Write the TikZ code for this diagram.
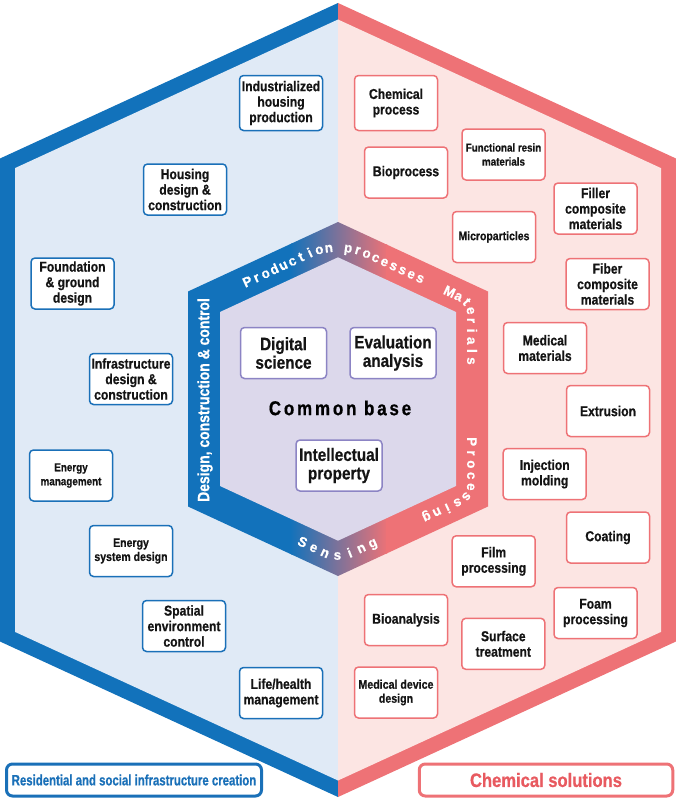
\documentclass[tikz,border=0pt]{standalone}
\usepackage{fontspec}
\setmainfont{Liberation Sans}[FakeStretch=0.85, BoldFeatures={FakeBold=0.6}]
\newfontfamily\narrowfont{Liberation Sans}[FakeStretch=0.76, BoldFeatures={FakeBold=0.6}]
\newfontfamily\bandfamily{Liberation Sans}[FakeStretch=0.97, BoldFeatures={FakeBold=0.6}]
\usetikzlibrary{decorations.markings}
\definecolor{bandblue}{HTML}{1272BB}
\definecolor{bandred}{HTML}{EE7276}
\definecolor{lightblue}{HTML}{E0EAF6}
\definecolor{lightpink}{HTML}{FCE5E3}
\definecolor{lavender}{HTML}{DCD8EB}
\definecolor{boxpurple}{HTML}{8C84C4}
\definecolor{boxblue}{HTML}{1A70B8}
\definecolor{redtext}{HTML}{E85A60}
\newcommand\bandfnt{\bandfamily\bfseries\fontsize{13.8}{14}\selectfont}
\newcommand\seqn{\pgfkeysvalueof{/pgf/decoration/mark info/sequence number}}
\newcommand\prodL[1]{\ifcase#1\or P\or r\or o\or d\or u\or c\or t\or i\or o\or n\or\relax\or p\or r\or o\or c\or e\or s\or s\or e\or s\fi}
\newcommand\matL[1]{\ifcase#1\or M\or a\or t\or e\or r\or i\or a\or l\or s\fi}
\newcommand\procL[1]{\ifcase#1\or P\or r\or o\or c\or e\or s\or s\or i\or n\or g\fi}
\newcommand\sensL[1]{\ifcase#1\or S\or e\or n\or s\or i\or n\or g\fi}
\tikzset{
  sbox/.style={draw, line width=1.5pt, rounded corners=4pt, fill=white,
    minimum width=83pt, minimum height=51pt, inner sep=0pt, align=center,
    text=black!92, font=\bfseries\fontsize{14.3}{15.5}\selectfont},
  bbox/.style={sbox, draw=boxblue},
  rbox/.style={sbox, draw=bandred},
  cbox/.style={sbox, draw=boxpurple, minimum width=86pt, font=\bfseries\fontsize{18}{18.5}\selectfont},
  smallf/.style={font=\bfseries\fontsize{#1}{14}\selectfont},
  bandch/.style={transform shape, text=white, inner sep=0pt, anchor=base, font=\bandfnt},
  label/.style={draw, line width=3pt, rounded corners=6pt, fill=white,
    minimum height=32pt, inner sep=0pt},
}
\begin{document}
\begin{tikzpicture}[x=1pt,y=-1pt]
\useasboundingbox (0,0) rectangle (676,800);
% big hexagon
\coordinate (O1) at (338,3);
\coordinate (O2) at (676,158.5);
\coordinate (O3) at (676,641.5);
\coordinate (O4) at (338,797);
\coordinate (O5) at (0,641.5);
\coordinate (O6) at (0,158.5);
\coordinate (I1) at (338,19.5);
\coordinate (I2) at (661,168.1);
\coordinate (I3) at (661,631.9);
\coordinate (I4) at (338,780.5);
\coordinate (I5) at (15,631.9);
\coordinate (I6) at (15,168.1);
\begin{scope}
  \clip (-1,-1) rectangle (338,801);
  \fill[bandblue] (O1)--(O2)--(O3)--(O4)--(O5)--(O6)--cycle;
  \fill[lightblue] (I1)--(I2)--(I3)--(I4)--(I5)--(I6)--cycle;
\end{scope}
\begin{scope}
  \clip (338,-1) rectangle (677,801);
  \fill[bandred] (O1)--(O2)--(O3)--(O4)--(O5)--(O6)--cycle;
  \fill[lightpink] (I1)--(I2)--(I3)--(I4)--(I5)--(I6)--cycle;
\end{scope}
% inner hexagon
\coordinate (J1) at (338,222);
\coordinate (J2) at (488,291.5);
\coordinate (J3) at (488,506.5);
\coordinate (J4) at (338,576);
\coordinate (J5) at (188,506.5);
\coordinate (J6) at (188,291.5);
\coordinate (K1) at (338,257.3);
\coordinate (K2) at (456,312);
\coordinate (K3) at (456,486);
\coordinate (K4) at (338,540.7);
\coordinate (K5) at (220,486);
\coordinate (K6) at (220,312);
\begin{scope}
  \clip (J1)--(J2)--(J3)--(J4)--(J5)--(J6)--cycle;
  \fill[bandblue] (180,210) rectangle (292,590);
  \shade[left color=bandblue, right color=bandred] (290,210) rectangle (388,590);
  \fill[bandred] (386,210) rectangle (500,590);
\end{scope}
\fill[lavender] (K1)--(K2)--(K3)--(K4)--(K5)--(K6)--cycle;
% band texts
\coordinate (pa) at (243,283.6);
\coordinate (pb) at (338,239.6);
\coordinate (pc) at (425,279.9);
\coordinate (ma) at (445,289.5);
\coordinate (mb) at (472,302);
\coordinate (mc) at (472,366);
\coordinate (qa) at (472,436);
\coordinate (qb) at (472,497);
\coordinate (qc) at (422,520.2);
\coordinate (sa) at (297,539.3);
\coordinate (sb) at (338,558.3);
\coordinate (sc) at (378,539.8);
\path[rounded corners=30pt, decorate, decoration={markings,
  mark=between positions 0.025 and 0.99 step 0.05 with {\node[bandch] at (0pt,-4.8pt) {\prodL{\seqn}};}}]
  (pa) -- (pb) -- (pc);
\path[rounded corners=12pt, decorate, decoration={markings,
  mark=between positions 0.0556 and 0.99 step 0.1111 with {\node[bandch] at (0pt,-4.8pt) {\matL{\seqn}};}}]
  (ma) -- (mb) -- (mc);
\path[rounded corners=12pt, decorate, decoration={markings,
  mark=between positions 0.05 and 0.99 step 0.1 with {\node[bandch] at (0pt,-4.8pt) {\procL{\seqn}};}}]
  (qa) -- (qb) -- (qc);
\path[rounded corners=14pt, decorate, decoration={markings,
  mark=between positions 0.0714 and 0.99 step 0.142857 with {\node[bandch] at (0pt,-4.8pt) {\sensL{\seqn}};}}]
  (sa) -- (sb) -- (sc);
\node[rotate=90, text=white, inner sep=0pt, font=\bfseries\fontsize{16.4}{17}\selectfont] (dcc) at (205,400) {Design, construction \& control};
% centre
\node[cbox] (digi) at (283.5,353) {Digital\\science};
\node[cbox] (eval) at (393,353) {Evaluation\\analysis};
\node[cbox] (ip) at (339,465.5) {Intellectual\\property};
\node[inner sep=0pt, font=\bfseries\fontsize{20}{20}\selectfont\addfontfeature{LetterSpace=14}] (cb) at (340,408) {Common base};
% left boxes
\node[bbox, minimum height=55pt] (ind) at (281,103) {Industrialized\\housing\\production};
\node[bbox] (hous) at (185,189.5) {Housing\\design \&\\construction};
\node[bbox] (found) at (72.5,283.5) {Foundation\\\& ground\\design};
\node[bbox] (infra) at (131,379) {Infrastructure\\design \&\\construction};
\node[bbox, smallf=11.6] (emgmt) at (71,475.5) {Energy\\management};
\node[bbox, smallf=12.4] (esys) at (131,551) {Energy\\system design};
\node[bbox] (spat) at (184,626) {Spatial\\environment\\control};
\node[bbox] (life) at (281,693) {Life/health\\management};
% right boxes
\node[rbox, minimum height=55pt] (chem) at (396,103) {Chemical\\process};
\node[rbox, smallf=11.5] (func) at (503.5,154.5) {Functional resin\\materials};
\node[rbox] (bio) at (406,172.5) {Bioprocess};
\node[rbox] (fill) at (595.5,208.5) {Filler\\composite\\materials};
\node[rbox, smallf=12.3] (micro) at (494,237) {Microparticles};
\node[rbox] (fiber) at (607.5,284) {Fiber\\composite\\materials};
\node[rbox] (medm) at (545,348) {Medical\\materials};
\node[rbox] (extr) at (608,411) {Extrusion};
\node[rbox] (inj) at (544.7,474) {Injection\\molding};
\node[rbox] (coat) at (608,537.5) {Coating};
\node[rbox] (film) at (493.7,561.3) {Film\\processing};
\node[rbox] (foam) at (595.5,613) {Foam\\processing};
\node[rbox] (bioan) at (406,620) {Bioanalysis};
\node[rbox] (surf) at (503.3,643.8) {Surface\\treatment};
\node[rbox, smallf=12.5] (medd) at (396,692.5) {Medical device\\design};
% bottom labels
\node[label, draw=boxblue, text=boxblue, minimum width=255pt,
  font=\narrowfont\bfseries\fontsize{15}{15}\selectfont] (lres) at (134,780) {Residential and social infrastructure creation};
\node[label, draw=bandred, text=redtext, minimum width=253.5pt,
  font=\bfseries\fontsize{19.5}{19.5}\selectfont] (lchem) at (546,780) {Chemical solutions};
\end{tikzpicture}
\end{document}
